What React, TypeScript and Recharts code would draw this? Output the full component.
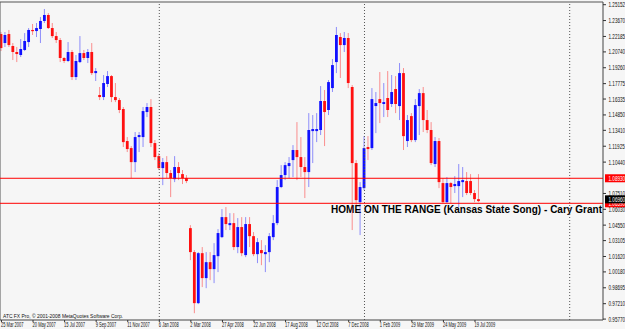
import React from 'react';
import { ComposedChart, Bar, XAxis, YAxis, ReferenceLine } from 'recharts';

const opens = [
  1.2241, 1.2157, 1.2241, 1.2129, 1.2073, 1.2045, 1.2092, 1.2166, 1.2279, 1.2269,
  1.2288, 1.2363, 1.2419, 1.2297, 1.2222, 1.2185, 1.2017, 1.1989, 1.2073, 1.1839,
  1.1979, 1.2063, 1.2017, 1.2073, 1.1876, 1.1671, 1.1652, 1.1774, 1.1848, 1.1652,
  1.1624, 1.1540, 1.1241, 1.1175, 1.1044, 1.1278, 1.1278, 1.1512, 1.1559, 1.1222,
  1.1100, 1.0988, 1.1044, 1.0942, 1.0885, 1.0998, 1.0932, 1.0895, 1.0427, 1.0203,
  0.9726, 1.0193, 0.9960, 1.0109, 1.0044, 1.0165, 1.0343, 1.0530, 1.0455, 1.0474,
  1.0250, 1.0437, 1.0175, 1.0465, 1.0352, 1.0184, 1.0222, 1.0184, 1.0203, 1.0343,
  1.0474, 1.0811, 1.0923, 1.1007, 1.1063, 1.1157, 1.1091, 1.0998, 1.0951, 1.1334,
  1.1334, 1.1344, 1.1615, 1.1531, 1.1736, 1.1979, 1.2213, 1.2138, 1.2204, 1.1746,
  1.1035, 1.0670, 1.0801, 1.1185, 1.1175, 1.1568, 1.1633, 1.1587, 1.1643, 1.1587,
  1.1727, 1.1568, 1.1876, 1.1241, 1.1474, 1.1250, 1.1568, 1.1689, 1.1437, 1.1344,
  1.1026, 1.1241, 1.0848, 1.0670, 1.0848, 1.0820, 1.0820, 1.0857, 1.0867, 1.0867,
  1.0755, 1.0698,
];
const highs = [
  1.2260, 1.2260, 1.2279, 1.2157, 1.2120, 1.2194, 1.2250, 1.2297, 1.2335, 1.2344,
  1.2400, 1.2475, 1.2437, 1.2344, 1.2260, 1.2204, 1.2026, 1.2166, 1.2092, 1.2045,
  1.2222, 1.2092, 1.2101, 1.2157, 1.1923, 1.1746, 1.1858, 1.1895, 1.1858, 1.1783,
  1.1643, 1.1559, 1.1278, 1.1194, 1.1325, 1.1325, 1.1559, 1.1596, 1.1633, 1.1250,
  1.1128, 1.1082, 1.1100, 1.0970, 1.1100, 1.1044, 1.0970, 1.0923, 1.0455, 1.0222,
  1.0203, 1.0250, 1.0203, 1.0203, 1.0287, 1.0418, 1.0605, 1.0624, 1.0567, 1.0567,
  1.0521, 1.0530, 1.0530, 1.0530, 1.0390, 1.0334, 1.0315, 1.0268, 1.0381, 1.0549,
  1.0876, 1.1016, 1.1044, 1.1091, 1.1203, 1.1418, 1.1278, 1.1091, 1.1502, 1.1484,
  1.1502, 1.1755, 1.1718, 1.1811, 1.2007, 1.2307, 1.2250, 1.2260, 1.2250, 1.1764,
  1.1063, 1.0857, 1.1287, 1.1287, 1.1736, 1.1699, 1.1886, 1.1783, 1.1895, 1.1858,
  1.1848, 1.1970, 1.1923, 1.1484, 1.1502, 1.1633, 1.1727, 1.1746, 1.1531, 1.1418,
  1.1278, 1.1269, 1.0895, 1.0904, 1.0857, 1.0913, 1.1026, 1.0998, 1.0951, 1.0932,
  1.0783, 1.0932,
];
const lows = [
  1.2082, 1.2120, 1.2120, 1.1998, 1.1979, 1.2026, 1.2082, 1.2120, 1.2232, 1.2213,
  1.2157, 1.2344, 1.2288, 1.2204, 1.2157, 1.1979, 1.1970, 1.1979, 1.1811, 1.1811,
  1.1970, 1.1998, 1.1970, 1.1858, 1.1802, 1.1624, 1.1624, 1.1746, 1.1605, 1.1605,
  1.1502, 1.1185, 1.1138, 1.0895, 1.0951, 1.1138, 1.1185, 1.1465, 1.1185, 1.1063,
  1.0970, 1.0829, 1.0895, 1.0717, 1.0857, 1.0876, 1.0839, 1.0848, 1.0128, 0.9632,
  0.9717, 0.9876, 0.9866, 0.9941, 0.9913, 1.0016, 1.0334, 1.0409, 1.0409, 1.0222,
  1.0193, 1.0165, 1.0156, 1.0250, 1.0165, 1.0100, 1.0081, 1.0016, 1.0109, 1.0315,
  1.0455, 1.0801, 1.0876, 1.0895, 1.0904, 1.0876, 1.0904, 1.0708, 1.0811, 1.1035,
  1.1231, 1.1297, 1.1194, 1.1484, 1.1699, 1.1876, 1.1830, 1.2073, 1.1736, 1.0409,
  1.0642, 1.0362, 1.0783, 1.1063, 1.1157, 1.1315, 1.1409, 1.1465, 1.1465, 1.1559,
  1.1502, 1.1437, 1.1157, 1.1185, 1.1231, 1.1231, 1.1297, 1.1325, 1.1315, 1.1016,
  1.0998, 1.0801, 1.0661, 1.0661, 1.0661, 1.0755, 1.0624, 1.0717, 1.0736, 1.0736,
  1.0670, 1.0670,
];
const closes = [
  1.2110, 1.2232, 1.2138, 1.2073, 1.2054, 1.2101, 1.2176, 1.2279, 1.2269, 1.2297,
  1.2363, 1.2419, 1.2297, 1.2222, 1.2185, 1.2017, 1.1989, 1.2073, 1.1839, 1.1989,
  1.2063, 1.2017, 1.2073, 1.1876, 1.1895, 1.1652, 1.1783, 1.1848, 1.1652, 1.1624,
  1.1531, 1.1231, 1.1166, 1.1044, 1.1278, 1.1297, 1.1521, 1.1559, 1.1222, 1.1091,
  1.0988, 1.1044, 1.0942, 1.0895, 1.0998, 1.0942, 1.0895, 1.0867, 1.0203, 0.9726,
  1.0193, 0.9960, 1.0109, 1.0044, 1.0175, 1.0381, 1.0530, 1.0465, 1.0474, 1.0250,
  1.0437, 1.0193, 1.0465, 1.0352, 1.0184, 1.0296, 1.0193, 1.0203, 1.0352, 1.0474,
  1.0811, 1.0923, 1.1016, 1.1035, 1.1157, 1.1091, 1.0998, 1.0951, 1.1344, 1.1353,
  1.1353, 1.1615, 1.1512, 1.1792, 1.1951, 1.2232, 1.2138, 1.2204, 1.1783, 1.1035,
  1.0689, 1.0811, 1.1175, 1.1166, 1.1633, 1.1596, 1.1596, 1.1605, 1.1531, 1.1699,
  1.1587, 1.1876, 1.1287, 1.1437, 1.1250, 1.1577, 1.1689, 1.1437, 1.1344, 1.1035,
  1.1241, 1.0857, 1.0670, 1.0848, 1.0811, 1.0839, 1.0867, 1.0876, 1.0755, 1.0755,
  1.0698, 1.0680,
];

const tickIndex = [0, 8, 16, 24, 32, 40, 48, 56, 64, 72, 80, 88, 96, 104, 112, 120];
const tickLabels = [
  '25 Mar 2007', '20 May 2007', '15 Jul 2007', '9 Sep 2007', '11 Nov 2007', '6 Jan 2008',
  '2 Mar 2008', '27 Apr 2008', '22 Jun 2008', '17 Aug 2008', '12 Oct 2008', '7 Dec 2008',
  '1 Feb 2009', '29 Mar 2009', '24 May 2009', '19 Jul 2009',
];
const priceTicks = [
  1.25152, 1.2367, 1.22185, 1.2074, 1.1926, 1.17775, 1.16335, 1.1485, 1.1341, 1.11925,
  1.1044, 1.0751, 1.0603, 1.0455, 1.03105, 1.0162, 1.0018, 0.98695, 0.9721, 0.9577,
];
const redLines = [1.0893, 1.0659];
const redLineLabels = ['1.08930', '1.06590'];
const bidPrice = 1.0696;
const bidLabel = '1.06960';
const yearSeparators = [40, 92, 144];
const title = 'HOME ON THE RANGE (Kansas State Song) - Cary Grant';
const copyright = 'ATC FX Pro, \u00a9 2001-2008 MetaQuotes Software Corp.';

const data = opens.map((o, i) => ({
  i,
  o,
  h: highs[i],
  l: lows[i],
  c: closes[i],
  range: [lows[i], highs[i]],
}));

const FONT = "'Liberation Sans', Arial, sans-serif";

const Candle = (props: any) => {
  const { x, y, width, height, payload } = props;
  if (!payload) return null;
  const { o, h, l, c } = payload;
  const yTop = Math.min(y, y + height);
  const yBot = Math.max(y, y + height);
  const span = h - l || 1e-9;
  const yO = yTop + ((h - o) / span) * (yBot - yTop);
  const yC = yTop + ((h - c) / span) * (yBot - yTop);
  const bull = c >= o;
  const color = bull ? '#1010ff' : '#ff1010';
  const cx = x + width / 2;
  const bt = Math.min(yO, yC);
  const bh = Math.max(Math.abs(yO - yC), 1.2);
  return (
    <g>
      <line x1={cx} x2={cx} y1={yTop} y2={yBot} stroke={color} strokeOpacity={0.45} strokeWidth={1} />
      <rect x={cx - 1.4} y={bt} width={2.8} height={bh} fill={color} />
    </g>
  );
};

const SmallText = ({ x, y, sx, children, fill = '#111', size = 7.2 }: any) => (
  <text
    transform={`translate(${x},${y}) scale(${sx},1)`}
    fontSize={size}
    fontFamily={FONT}
    fill={fill}
    textAnchor="start"
  >
    {children}
  </text>
);

const XTick = (props: any) => {
  const { x, y, payload } = props;
  const idx = tickIndex.indexOf(payload.value);
  const label = idx >= 0 ? tickLabels[idx] : '';
  return (
    <g>
      <line x1={x} x2={x} y1={y} y2={y + 2} stroke="#333" strokeWidth={1} />
      <SmallText x={x - 0.5} y={y + 7.3} sx={0.56}>
        {label}
      </SmallText>
    </g>
  );
};

const YTick = (props: any) => {
  const { x, y, payload } = props;
  return (
    <g>
      <line x1={x} x2={x + 3} y1={y} y2={y} stroke="#333" strokeWidth={1} />
      <SmallText x={x + 5.5} y={y + 2.5} sx={0.64}>
        {payload.value.toFixed(5)}
      </SmallText>
    </g>
  );
};

const axisBox = (text: string, fill: string) => (props: any) => {
  const vb = props.viewBox || {};
  const yy = vb.y;
  const xr = vb.x + vb.width;
  return (
    <g>
      <rect x={xr + 2} y={yy - 4} width={23} height={8} fill={fill} />
      <SmallText x={xr + 5.5} y={yy + 2.5} sx={0.64} fill="#fff">
        {text}
      </SmallText>
    </g>
  );
};

export default function App() {
  return (
    <div style={{ position: 'absolute', left: 0, top: 0, width: 625, height: 329, background: '#f6f6f6' }}>
      <ComposedChart
        width={625}
        height={329}
        data={data}
        margin={{ top: 2, right: 0, bottom: 0, left: 0 }}
      >
        <XAxis
          dataKey="i"
          type="number"
          domain={[-0.37, 152.44]}
          allowDataOverflow
          ticks={tickIndex}
          interval={0}
          height={9}
          tick={<XTick />}
          tickLine={false}
          tickSize={0}
          tickMargin={0}
          axisLine={{ stroke: '#444' }}
        />
        <YAxis
          orientation="right"
          type="number"
          domain={[0.95684, 1.25404]}
          allowDataOverflow
          ticks={priceTicks}
          interval={0}
          width={22}
          tick={<YTick />}
          tickLine={false}
          tickSize={0}
          tickMargin={0}
          axisLine={{ stroke: '#444' }}
        />
        <ReferenceLine y={1.25404} stroke="#555" strokeWidth={1} />
        <ReferenceLine x={-0.37} stroke="#555" strokeWidth={1} />
        {yearSeparators.map((s) => (
          <ReferenceLine key={s} x={s} stroke="#555" strokeDasharray="1 2" strokeWidth={1} />
        ))}
        <ReferenceLine y={redLines[0]} stroke="#ff0000" strokeWidth={1} label={axisBox(redLineLabels[0], '#ff0000')} />
        <ReferenceLine y={redLines[1]} stroke="#ff0000" strokeWidth={1} label={axisBox(redLineLabels[1], '#ff0000')} />
        <ReferenceLine y={bidPrice} stroke="none" strokeOpacity={0} label={axisBox(bidLabel, '#000')} />
        <Bar dataKey="range" barSize={3} shape={<Candle />} isAnimationActive={false} />
        <text
          x={331}
          y={212.5}
          fontSize={10}
          fontWeight="bold"
          fontFamily={FONT}
          fill="#000"
          textLength={271}
          lengthAdjust="spacing"
        >
          {title}
        </text>
        <text
          x={3}
          y={317.5}
          fontSize={5.4}
          fontFamily={FONT}
          fill="#111"
          textLength={120}
          lengthAdjust="spacingAndGlyphs"
        >
          {copyright}
        </text>
      </ComposedChart>
    </div>
  );
}
